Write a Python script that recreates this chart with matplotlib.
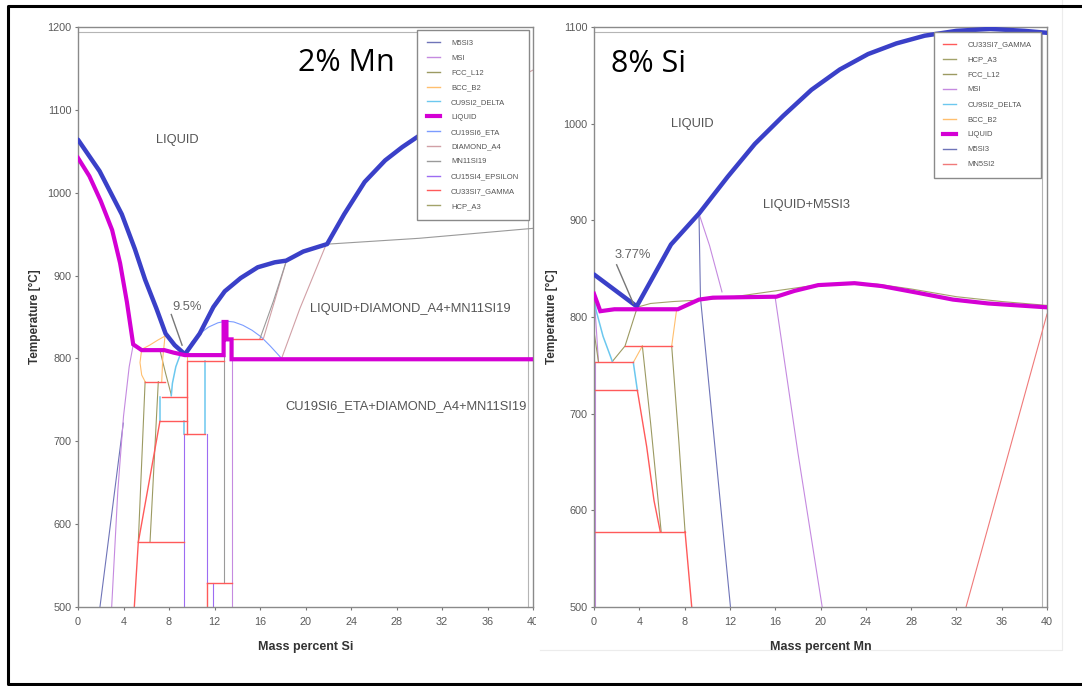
import matplotlib.pyplot as plt
from matplotlib.lines import Line2D
from matplotlib.patches import Rectangle

W, H = 1082, 686

# phase colours used in both sections
COL = {
    "M5SI3": "#6f74b8",
    "MSI": "#c58ae0",
    "FCC_L12": "#9c9a62",
    "BCC_B2": "#ffbf6e",
    "CU9SI2_DELTA": "#6cc8ef",
    "LIQUID": "#d400d4",
    "CU19SI6_ETA": "#7b9cff",
    "DIAMOND_A4": "#d1a0a6",
    "MN11SI19": "#9a9a9a",
    "CU15SI4_EPSILON": "#9d6cf2",
    "CU33SI7_GAMMA": "#ff5a5a",
    "HCP_A3": "#a3a36a",
    "MN5SI2": "#f07a7a",
}
BOUNDARY = "#3a40c8"

# ---- 2% Mn section (x = mass percent Si) ----
si_bound_x = [0, 1.9, 3.85, 5.0, 5.9, 6.9, 7.7, 8.5, 9.4, 10.7, 11.9, 12.9, 14.3, 15.8,
              17.3, 18.3, 19.8, 21.9, 23.4, 25.2, 27.0, 28.5, 29.9, 31.5, 33.0]
si_bound_t = [1064, 1026, 974, 932, 895, 860, 830, 816, 805, 830, 862, 881, 897, 910,
              916, 918, 929, 938, 974, 1013, 1039, 1055, 1068, 1080, 1090]

si_liq_x = [0, 1.0, 2.0, 3.0, 3.7, 4.3, 4.85, 5.6, 7.6, 8.4, 9.4, 12.8, 12.8, 13.05, 13.05,
            13.5, 13.5, 40]
si_liq_t = [1042, 1020, 990, 955, 915, 868, 817, 810, 810, 807, 804, 804, 844, 844, 823,
            823, 799, 799]

si_gamma = [[(5.9, 772), (7.65, 772)], [(7.36, 753), (9.6, 753)], [(7.2, 724), (9.6, 724)],
            [(9.3, 709), (11.2, 709)], [(9.7, 797), (12.8, 797)], [(13.5, 823), (16.2, 823)],
            [(5.3, 578), (9.3, 578)], [(11.3, 529), (13.5, 529)],
            [(4.95, 500), (5.3, 578), (7.2, 724)], [(11.3, 529), (11.3, 500)],
            [(9.6, 797), (9.6, 709)]]
si_delta = [[(9.0, 805), (8.6, 790), (8.3, 770), (8.2, 755)], [(7.2, 753), (7.2, 724)],
            [(11.2, 797), (11.2, 709)], [(9.3, 724), (9.3, 709)]]
si_fcc = [[(5.9, 772), (5.3, 578)], [(7.06, 772), (6.33, 578)],
          [(7.2, 810), (7.7, 782), (8.2, 756)]]
si_bcc = [[(5.6, 811), (5.45, 795), (5.6, 780), (5.9, 772)],
          [(5.6, 811), (6.3, 816), (7.0, 822), (7.65, 827)],
          [(7.65, 827), (7.45, 800), (7.36, 772)], [(9.6, 805), (9.6, 797)]]
si_msi = [[(2.96, 500), (3.5, 640), (4.0, 730), (4.5, 790), (4.86, 817)],
          [(13.5, 799), (13.5, 500)]]
si_m5si3 = [[(1.93, 500), (3.98, 722)]]
si_eps = [[(9.3, 709), (9.3, 500)], [(11.3, 709), (11.3, 529)], [(11.9, 529), (11.9, 500)]]
si_mn11 = [[(12.85, 843), (12.85, 529)], [(16.0, 824), (17.2, 870), (18.3, 917)],
           [(22, 938), (30, 945), (40, 957)]]
si_diamond = [[(16.3, 824), (17.3, 870), (18.3, 917)], [(17.9, 800), (19.5, 860), (21.8, 937)],
              [(37, 1127), (40, 1148)]]
si_eta = [[(9.4, 805), (10.0, 820), (10.7, 830), (11.5, 838), (12.3, 843), (13.0, 845),
           (13.7, 844), (14.5, 840), (15.3, 834), (16.1, 826), (16.9, 815), (17.9, 800)]]

si_legend = ["M5SI3", "MSI", "FCC_L12", "BCC_B2", "CU9SI2_DELTA", "LIQUID", "CU19SI6_ETA",
             "DIAMOND_A4", "MN11SI19", "CU15SI4_EPSILON", "CU33SI7_GAMMA", "HCP_A3"]

# ---- 8% Si section (x = mass percent Mn) ----
mn_bound_x = [0, 3.77, 6.8, 9.27, 11.8, 14.2, 16.7, 19.2, 21.7, 24.2, 26.7, 29.2, 32, 35, 38, 40]
mn_bound_t = [844, 811, 875, 907, 945, 979, 1008, 1035, 1056, 1072, 1083, 1091, 1096, 1098, 1096, 1094]

mn_liq_x = [0, 0.56, 1.8, 3.7, 7.4, 9.27, 10.5, 16.1, 17.7, 19.8, 23, 25.4, 28.6, 31.7, 34.8, 40]
mn_liq_t = [824, 806, 808, 808, 808, 818, 820, 821, 827, 833, 835, 832, 825, 818, 814, 810]

mn_gamma = [[(0, 753), (3.47, 753)], [(0, 724), (3.83, 724)], [(0, 578), (8.04, 578)],
            [(3.83, 724), (4.65, 666), (5.3, 610), (5.85, 578)], [(8.04, 578), (8.63, 500)],
            [(2.74, 770), (6.86, 770)]]
mn_delta = [[(0, 822), (0.18, 807), (0.8, 780), (1.62, 754)], [(3.47, 753), (3.83, 724)]]
mn_fcc = [[(1.62, 754), (2.74, 770), (3.77, 808)], [(4.27, 770), (5.0, 690), (5.93, 578)],
          [(6.86, 770), (7.5, 670), (8.04, 578)], [(0, 785), (0.4, 753)]]
mn_hcp = [[(3.77, 810), (5, 814), (7, 816), (10, 818), (13, 822), (16, 827), (19, 832),
           (22, 835), (25, 834), (28, 829), (32, 821), (36, 816), (40, 812)]]
mn_bcc = [[(3.47, 753), (4.27, 770)], [(6.86, 770), (7.3, 808)]]
mn_msi = [[(0, 824), (0.4, 753)], [(9.27, 907), (10.2, 874), (11.3, 826)],
          [(16, 820), (18, 660), (20.15, 500)], [(0.05, 753), (0.05, 500)]]
mn_m5si3 = [[(9.27, 907), (9.4, 820), (12.05, 500)]]
mn_mn5si2 = [[(32.85, 500), (40, 803)]]

mn_legend = ["CU33SI7_GAMMA", "HCP_A3", "FCC_L12", "MSI", "CU9SI2_DELTA", "BCC_B2",
             "LIQUID", "M5SI3", "MN5SI2"]

LABEL_FS = 9.3


def draw_segments(ax, segs, color, lw=0.8):
    for seg in segs:
        xs = [p[0] for p in seg]
        ts = [p[1] for p in seg]
        ax.plot(xs, ts, color=color, lw=lw, solid_joinstyle="miter", zorder=2)


def prepare_ax(ax, ymax):
    ax.set_xlim(0, 40)
    ax.set_ylim(500, ymax)
    ax.set_xticks(range(0, 41, 4))
    ax.set_yticks(range(500, ymax + 1, 100))
    for sp in ax.spines.values():
        sp.set_color("#8a8a8a")
        sp.set_linewidth(1.0)
    ax.tick_params(direction="out", length=2.5, width=0.8, color="#777777",
                   labelsize=7.8, labelcolor="#5a5a5a")
    ax.tick_params(axis="x", pad=5)
    ax.tick_params(axis="y", pad=2)
    for lab in ax.get_xticklabels() + ax.get_yticklabels():
        lab.set_family("Liberation Sans")
    # inner frame line on top and right
    ax.plot([0, 0.99, 0.99], [0.992, 0.992, 0], transform=ax.transAxes,
            color="#b5b5b5", lw=0.8, clip_on=False, zorder=1)


def add_legend(ax, names, anchor, spacing):
    handles = []
    for n in names:
        lw = 3.0 if n == "LIQUID" else 1.0
        handles.append(Line2D([], [], color=COL[n], lw=lw))
    leg = ax.legend(handles, names, loc="upper left", bbox_to_anchor=anchor,
                    borderaxespad=0, frameon=True, fancybox=False, framealpha=1.0,
                    handlelength=1.7, handletextpad=1.5, labelspacing=spacing,
                    borderpad=1.25, prop={"family": "Liberation Sans", "size": 5.5})
    leg.get_frame().set_edgecolor("#8a8a8a")
    leg.get_frame().set_linewidth(1.0)
    leg.get_frame().set_facecolor("white")
    for t in leg.get_texts():
        t.set_color("#555555")
    leg.set_zorder(5)


def region_text(ax, x, t, s, color="#555555"):
    ax.text(x, t, s, fontsize=LABEL_FS, color=color, ha="center", va="center",
            family="Liberation Sans", zorder=4)


fig = plt.figure(figsize=(W / 100, H / 100), dpi=100)

ax1 = fig.add_axes([78 / W, 1 - 607 / H, 455 / W, 580 / H], zorder=0)
ax2 = fig.add_axes([594 / W, 1 - 607 / H, 453 / W, 580 / H], zorder=3)

# left section
prepare_ax(ax1, 1200)
draw_segments(ax1, si_m5si3, COL["M5SI3"])
draw_segments(ax1, si_msi, COL["MSI"])
draw_segments(ax1, si_fcc, COL["FCC_L12"])
draw_segments(ax1, si_bcc, COL["BCC_B2"])
draw_segments(ax1, si_delta, COL["CU9SI2_DELTA"], lw=1.1)
draw_segments(ax1, si_eta, COL["CU19SI6_ETA"])
draw_segments(ax1, si_diamond, COL["DIAMOND_A4"])
draw_segments(ax1, si_mn11, COL["MN11SI19"])
draw_segments(ax1, si_eps, COL["CU15SI4_EPSILON"])
draw_segments(ax1, si_gamma, COL["CU33SI7_GAMMA"], lw=1.0)
ax1.plot(si_bound_x, si_bound_t, color=BOUNDARY, lw=3.2, zorder=3, solid_capstyle="round")
ax1.plot(si_liq_x, si_liq_t, color=COL["LIQUID"], lw=3.0, zorder=3, solid_joinstyle="miter")
ax1.plot([8.2, 9.15], [853, 816], color="#777777", lw=1.0, zorder=3)
region_text(ax1, 9.6, 862, "9.5%", color="#666666")
region_text(ax1, 8.7, 1064, "LIQUID")
region_text(ax1, 29.2, 860, "LIQUID+DIAMOND_A4+MN11SI19")
region_text(ax1, 28.8, 742, "CU19SI6_ETA+DIAMOND_A4+MN11SI19")
ax1.text(19.3, 1157, "2% Mn", fontsize=22, color="black", ha="left", va="center",
         family="Open Sans")
ax1.set_xlabel("Mass percent Si", fontsize=9, fontweight="bold", color="#333333",
               family="Liberation Sans", labelpad=10)
ax1.set_ylabel("Temperature [°C]", fontsize=8.5, fontweight="bold", color="#333333",
               family="Liberation Sans", labelpad=5)
add_legend(ax1, si_legend, (0.745, 0.995), 0.98)

# white backing of the right section (cuts the last tick label of the left one)
fig.add_artist(Rectangle((536 / W, 1 - 650 / H), (1062 - 536) / W, 650 / H,
                         transform=fig.transFigure, facecolor="white",
                         edgecolor="none", zorder=2))
fig.add_artist(Line2D([540 / W, 1062 / W, 1062 / W], [1 - 650 / H, 1 - 650 / H, 1],
                      transform=fig.transFigure, color="#ececec", lw=0.8, zorder=2))

# right section
prepare_ax(ax2, 1100)
draw_segments(ax2, mn_m5si3, COL["M5SI3"])
draw_segments(ax2, mn_msi, COL["MSI"])
draw_segments(ax2, mn_fcc, COL["FCC_L12"])
draw_segments(ax2, mn_hcp, COL["HCP_A3"])
draw_segments(ax2, mn_bcc, COL["BCC_B2"])
draw_segments(ax2, mn_delta, COL["CU9SI2_DELTA"], lw=1.1)
draw_segments(ax2, mn_mn5si2, COL["MN5SI2"])
draw_segments(ax2, mn_gamma, COL["CU33SI7_GAMMA"], lw=1.0)
ax2.plot(mn_bound_x, mn_bound_t, color=BOUNDARY, lw=3.2, zorder=3, solid_capstyle="round")
ax2.plot(mn_liq_x, mn_liq_t, color=COL["LIQUID"], lw=3.0, zorder=3, solid_joinstyle="miter")
ax2.plot([2.0, 3.47], [854, 814], color="#777777", lw=1.0, zorder=3)
region_text(ax2, 3.4, 864, "3.77%", color="#666666")
region_text(ax2, 8.7, 1000, "LIQUID")
region_text(ax2, 18.75, 916, "LIQUID+M5SI3")
ax2.text(1.5, 1062, "8% Si", fontsize=22, color="black", ha="left", va="center",
         family="Open Sans")
ax2.set_xlabel("Mass percent Mn", fontsize=9, fontweight="bold", color="#333333",
               family="Liberation Sans", labelpad=10)
ax2.set_ylabel("Temperature [°C]", fontsize=8.5, fontweight="bold", color="#333333",
               family="Liberation Sans", labelpad=4)
add_legend(ax2, mn_legend, (0.75, 0.992), 1.0)

# outer frame
frame_x = [1090 / W, 8 / W, 8 / W, 1090 / W]
frame_y = [1 - 6 / H, 1 - 6 / H, 1 - 684 / H, 1 - 684 / H]
fig.add_artist(Line2D(frame_x, frame_y, transform=fig.transFigure, color="black",
                      lw=2.2, zorder=10))

fig.savefig("out.png", dpi=100)
